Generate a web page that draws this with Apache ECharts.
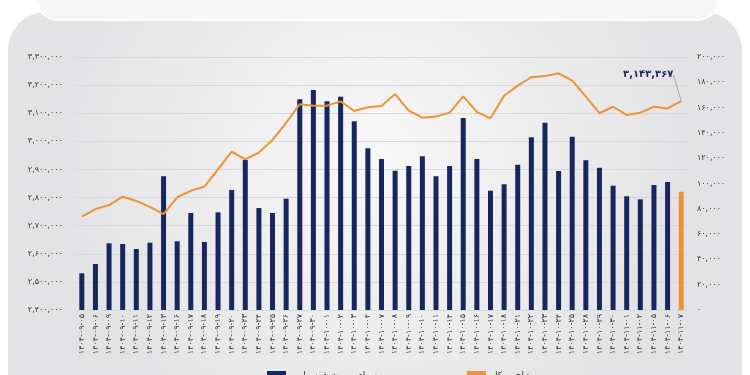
<!DOCTYPE html>
<html>
<head>
<meta charset="UTF-8">
<title></title>
<script src="https://cdn.jsdelivr.net/npm/echarts@6/dist/echarts.min.js"></script>
</head>
<body style="margin:0;background:#fff">
<div id="container" style="width:750px;height:375px"></div>
<script type="text/javascript">
var days = [
  '۱۴۰۴-۰۹-۰۵','۱۴۰۴-۰۹-۰۶','۱۴۰۴-۰۹-۰۹','۱۴۰۴-۰۹-۱۰','۱۴۰۴-۰۹-۱۱','۱۴۰۴-۰۹-۱۲','۱۴۰۴-۰۹-۱۳','۱۴۰۴-۰۹-۱۶','۱۴۰۴-۰۹-۱۷',
  '۱۴۰۴-۰۹-۱۸','۱۴۰۴-۰۹-۱۹','۱۴۰۴-۰۹-۲۰','۱۴۰۴-۰۹-۲۳','۱۴۰۴-۰۹-۲۴','۱۴۰۴-۰۹-۲۵','۱۴۰۴-۰۹-۲۶','۱۴۰۴-۰۹-۲۷','۱۴۰۴-۰۹-۳۰',
  '۱۴۰۴-۱۰-۰۱','۱۴۰۴-۱۰-۰۲','۱۴۰۴-۱۰-۰۳','۱۴۰۴-۱۰-۰۴','۱۴۰۴-۱۰-۰۷','۱۴۰۴-۱۰-۰۸','۱۴۰۴-۱۰-۰۹','۱۴۰۴-۱۰-۱۰','۱۴۰۴-۱۰-۱۱',
  '۱۴۰۴-۱۰-۱۴','۱۴۰۴-۱۰-۱۵','۱۴۰۴-۱۰-۱۶','۱۴۰۴-۱۰-۱۷','۱۴۰۴-۱۰-۱۸','۱۴۰۴-۱۰-۲۱','۱۴۰۴-۱۰-۲۲','۱۴۰۴-۱۰-۲۳','۱۴۰۴-۱۰-۲۴',
  '۱۴۰۴-۱۰-۲۵','۱۴۰۴-۱۰-۲۸','۱۴۰۴-۱۰-۲۹','۱۴۰۴-۱۰-۳۰','۱۴۰۴-۱۱-۰۱','۱۴۰۴-۱۱-۰۲','۱۴۰۴-۱۱-۰۵','۱۴۰۴-۱۱-۰۶','۱۴۰۴-۱۱-۰۷'
];
// value of trades (right axis)
var tradeValue = [
  29000, 36400, 52700, 52200, 48200, 53200, 105700, 54300, 76700,
  53800, 77200, 94900, 118600, 80600, 76700, 88000, 166600, 173900,
  165000, 168600, 149200, 127800, 119400, 110100, 113800, 121500, 105700,
  113800, 151800, 119400, 94300, 99400, 114900, 136500, 148100, 109900,
  137000, 118300, 112500, 98300, 89900, 87500, 98800, 101200, 93500
];
// total index (left axis)
var indexValue = [
  2732000, 2759000, 2773000, 2803000, 2788000, 2767000, 2741000, 2801000, 2824000,
  2839000, 2900000, 2963000, 2936000, 2960000, 3005000, 3066000, 3132000, 3127000,
  3127000, 3142000, 3108000, 3121000, 3126000, 3168000, 3109000, 3084000, 3088000,
  3102000, 3160000, 3105000, 3082000, 3162000, 3198000, 3228000, 3232000, 3242000,
  3216000, 3159000, 3100000, 3123000, 3094000, 3102000, 3123000, 3117000, 3143367
];
var barName = 'سهام و صندوق سهامی';
var lineName = 'شاخص کل';

var navy = '#15275e';
var orange = '#ef9236';
var font = 'DejaVu Sans, sans-serif';

function toFa(n) {
  var s = Math.round(n).toString().replace(/\B(?=(\d{3})+(?!\d))/g, ',');
  return s.replace(/\d/g, function (d) { return '۰۱۲۳۴۵۶۷۸۹'[d]; });
}

var dom = document.getElementById('container');
var myChart = echarts.init(dom);

var barData = tradeValue.map(function (v, i) {
  if (i === tradeValue.length - 1) {
    return { value: v, itemStyle: { color: orange } };
  }
  return v;
});
var lineData = indexValue.map(function (v, i) {
  if (i === indexValue.length - 1) {
    return {
      value: v,
      symbol: 'circle',
      symbolSize: 1,
      label: {
        show: true,
        position: 'top',
        formatter: function (p) { return toFa(p.value); },
        color: navy,
        fontWeight: 'bold',
        fontSize: 10,
        fontFamily: font
      },
      labelLine: { show: true, smooth: false, lineStyle: { color: '#a8a8a8', width: 1 } }
    };
  }
  return v;
});

var option = {
  animation: false,
  graphic: [
    {
      type: 'rect', z: -10, silent: true,
      shape: { x: 8, y: 12, width: 734, height: 420, r: 38 },
      style: {
        fill: {
          type: 'radial', x: 0.5, y: 0.35, r: 0.75,
          colorStops: [{ offset: 0, color: '#f8f8f8' }, { offset: 1, color: '#e3e3e5' }]
        }
      }
    },
    {
      type: 'rect', z: -9, silent: true,
      shape: { x: 36, y: -40, width: 683, height: 60, r: 22 },
      style: { fill: '#f6f6f6', stroke: '#ffffff', lineWidth: 2 }
    }
  ],
  grid: { left: 75, right: 62, top: 57, bottom: 65 },
  legend: [
    {
      data: [barName], left: 262, top: 366,
      itemWidth: 19, itemHeight: 9, icon: 'rect',
      textStyle: { fontSize: 9, color: '#333', fontFamily: font }
    },
    {
      data: [{ name: lineName, itemStyle: { color: orange } }], left: 462, top: 366,
      itemWidth: 19, itemHeight: 9, icon: 'rect',
      textStyle: { fontSize: 9, color: '#333', fontFamily: font }
    }
  ],
  xAxis: {
    type: 'category',
    data: days,
    axisLine: { show: false },
    axisTick: { show: false },
    axisLabel: {
      rotate: 90, interval: 0, fontSize: 8, color: '#333',
      fontFamily: font, margin: 4
    }
  },
  yAxis: [
    {
      type: 'value', min: 2400000, max: 3300000, interval: 100000,
      axisLine: { show: false }, axisTick: { show: false },
      splitLine: { lineStyle: { color: '#d9d9db', width: 1 } },
      axisLabel: {
        formatter: toFa, fontSize: 8, color: '#333', fontFamily: font, margin: 12
      }
    },
    {
      type: 'value', min: 0, max: 200000, interval: 20000,
      axisLine: { show: false }, axisTick: { show: false },
      splitLine: { show: false },
      axisLabel: {
        formatter: toFa, fontSize: 8, color: '#333', fontFamily: font, margin: 9
      }
    }
  ],
  series: [
    {
      name: barName,
      type: 'bar',
      yAxisIndex: 1,
      barWidth: 5,
      itemStyle: { color: navy },
      data: barData
    },
    {
      name: lineName,
      type: 'line',
      yAxisIndex: 0,
      symbol: 'none',
      showSymbol: true,
      lineStyle: { color: orange, width: 2 },
      itemStyle: { color: orange },
      labelLine: { show: true, lineStyle: { color: '#a8a8a8', width: 1 } },
      labelLayout: function (p) {
        if (p.dataIndex === indexValue.length - 1) {
          return { dx: -33, dy: -16 };
        }
      },
      data: lineData
    }
  ]
};

myChart.setOption(option);
</script>
</body>
</html>
